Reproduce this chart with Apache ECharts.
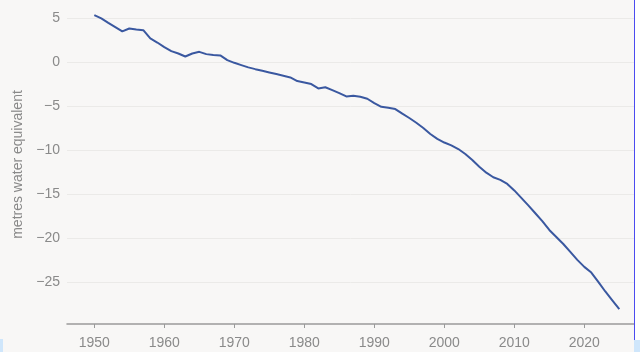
<!DOCTYPE html>
<html>
<head>
<meta charset="utf-8">
<script src="https://cdn.jsdelivr.net/npm/echarts@6/dist/echarts.min.js"></script>
<style>
  html, body { margin: 0; padding: 0; background: #ffffff; }
  #main { width: 640px; height: 352px; }
</style>
</head>
<body>
<div id="main"></div>
<script>
// cumulative glacier mass balance, 1950-2025
const years = []
for (let y = 1950; y <= 2025; y++) years.push(y)
const balance = [
  5.34, 4.97, 4.47, 3.98, 3.49, 3.83, 3.71, 3.64, 2.69, 2.23,
  1.70, 1.25, 0.98, 0.64, 0.98, 1.17, 0.91, 0.80, 0.76, 0.23,
  -0.08, -0.34, -0.60, -0.80, -0.98, -1.17, -1.36, -1.55, -1.74, -2.16,
  -2.31, -2.50, -2.99, -2.86, -3.18, -3.52, -3.90, -3.83, -3.94, -4.17,
  -4.66, -5.08, -5.19, -5.34, -5.87, -6.36, -6.90, -7.50, -8.18, -8.74,
  -9.15, -9.47, -9.89, -10.45, -11.14, -11.90, -12.58, -13.10, -13.40, -13.86,
  -14.60, -15.45, -16.30, -17.20, -18.10, -19.10, -19.90, -20.70, -21.60, -22.50,
  -23.30, -23.95, -25.00, -26.10, -27.10, -28.10
]
const xTicks = [1950, 1960, 1970, 1980, 1990, 2000, 2010, 2020]
const yTicks = [-25, -20, -15, -10, -5, 0, 5]
const yTitle = 'metres water equivalent'

const chart = echarts.init(document.getElementById('main'))
const labelFont = 'Liberation Sans, Arial, sans-serif'

const option = {
  backgroundColor: '#f8f7f6',
  animation: false,
  grid: { left: 67, right: 6, top: 5, bottom: 28, containLabel: false },
  xAxis: {
    type: 'value',
    min: 1946.1,
    max: 2027.1,
    splitNumber: 8,
    axisLine: { show: true, onZero: false, lineStyle: { color: '#9a9a9a', width: 1.5 } },
    axisTick: { show: true, length: 4, customValues: xTicks, lineStyle: { color: '#9a9a9a' } },
    axisLabel: {
      customValues: xTicks,
      formatter: (v) => String(v),
      color: '#8a8a8a', fontSize: 14, fontFamily: labelFont, margin: 12
    },
    splitLine: { show: false }
  },
  yAxis: {
    type: 'value',
    min: -29.8,
    max: 6.5,
    splitNumber: 7,
    minInterval: 5,
    maxInterval: 5,
    name: yTitle,
    nameLocation: 'middle',
    nameGap: 42,
    nameTextStyle: { color: '#8a8a8a', fontSize: 14, fontFamily: labelFont },
    axisLine: { show: false },
    axisTick: { show: false },
    axisLabel: {
      customValues: yTicks,
      formatter: (v) => String(v).replace('-', '\u2212'),
      color: '#8a8a8a', fontSize: 14, fontFamily: labelFont, margin: 7
    },
    splitLine: {
      show: true, showMinLine: false, showMaxLine: false,
      lineStyle: { color: '#ebeae8', width: 1 }
    }
  },
  series: [
    {
      type: 'line',
      data: years.map((y, i) => [y, balance[i]]),
      showSymbol: false,
      lineStyle: { color: '#3a58a0', width: 2 }
    }
  ],
  graphic: [
    { type: 'rect', shape: { x: 635, y: 0, width: 5, height: 352 }, style: { fill: '#ffffff' }, z: 100 },
    { type: 'line', shape: { x1: 634.5, y1: 0, x2: 634.5, y2: 340 }, style: { stroke: '#4b4bf0', lineWidth: 1 }, z: 101 },
    { type: 'rect', shape: { x: 634, y: 340, width: 6, height: 12 }, style: { fill: '#cfe6fb' }, z: 101 },
    { type: 'rect', shape: { x: 0, y: 339, width: 3, height: 13 }, style: { fill: '#cfe6fb' }, z: 101 }
  ]
}

chart.setOption(option)
</script>
</body>
</html>
